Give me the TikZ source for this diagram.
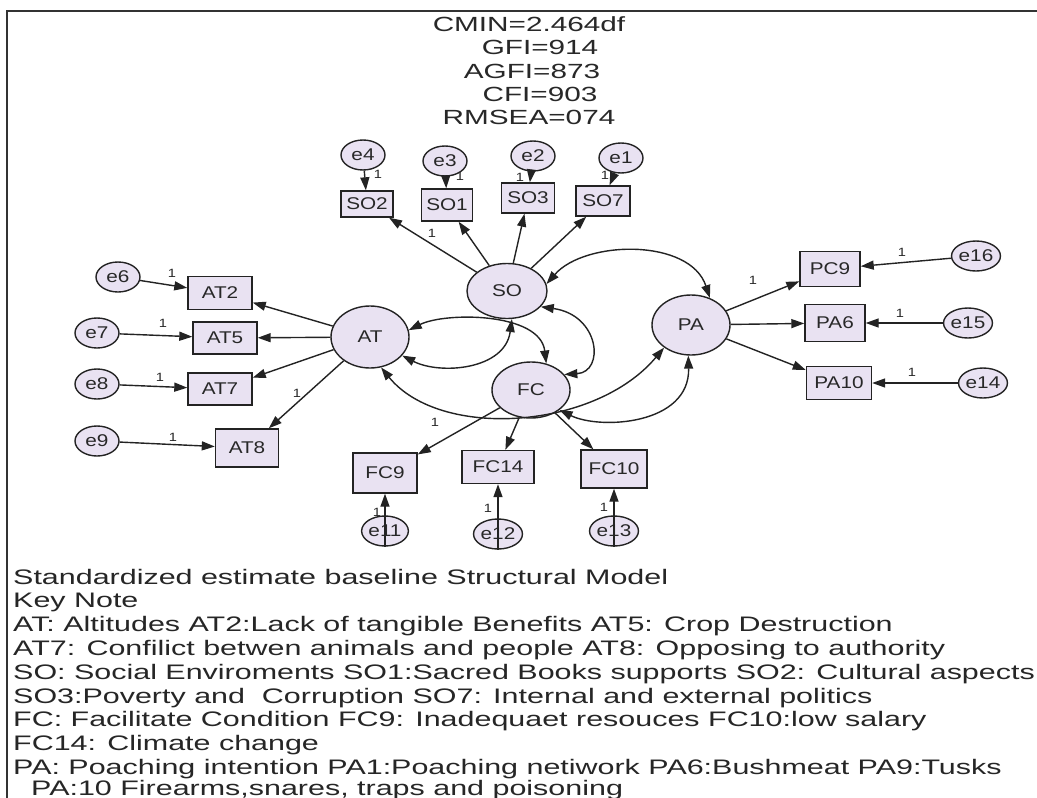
\documentclass[tikz,border=0pt]{standalone}
\usepackage{fontspec}
\setmainfont{Liberation Sans}
\newfontfamily\wideface[FakeStretch=1.45]{Liberation Sans}
\newfontfamily\labelface[FakeStretch=1.22]{Liberation Sans}
\usetikzlibrary{arrows.meta,shapes.geometric}
\definecolor{lav}{RGB}{233,226,242}
\definecolor{ink}{RGB}{35,35,35}
\definecolor{txt}{RGB}{40,40,40}

\begin{document}
\begin{tikzpicture}[x=1pt,y=-1pt,
  latent/.style={ellipse, draw=ink, fill=lav, line width=1.4pt, inner sep=0pt,
    font=\labelface\fontsize{17pt}{17pt}\selectfont, text=txt},
  obs/.style={rectangle, draw=ink, fill=lav, line width=1.4pt, inner sep=0pt,
    font=\labelface\fontsize{17pt}{17pt}\selectfont, text=txt},
  err/.style={ellipse, draw=ink, fill=lav, line width=1.4pt, inner sep=0pt,
    minimum width=44pt, minimum height=30pt,
    font=\labelface\fontsize{17pt}{17pt}\selectfont, text=txt},
  path/.style={draw=ink, line width=1.4pt, -{Triangle[length=13pt,width=9pt]}},
  cov/.style={draw=ink, line width=1.4pt,
    {Triangle[length=13pt,width=9pt]}-{Triangle[length=13pt,width=9pt]}},
  one/.style={font=\labelface\fontsize{12pt}{12pt}\selectfont, text=txt, inner sep=0pt},
  stat/.style={font=\wideface\fontsize{20.5pt}{20.5pt}\selectfont, text=txt, inner sep=0pt, anchor=base},
  legend/.style={font=\wideface\fontsize{21pt}{21pt}\selectfont, text=black!85, inner sep=0pt, anchor=base west}
]
\useasboundingbox (0,0) rectangle (1037,798);
\fill[white] (0,0) rectangle (1037,798);

% frame lines along the top and left edges
\draw[line width=2pt, black!80] (1037,10.5) -- (7,10.5) -- (7,798);

% fit indices
\node[stat] (s1) at (529,31.5) {CMIN=2.464df};
\node[stat] (s2) at (540,54.8) {GFI=914};
\node[stat] (s3) at (532,78.1) {AGFI=873};
\node[stat] (s4) at (540,101.4) {CFI=903};
\node[stat] (s5) at (529,124.7) {RMSEA=074};

% latent variables
\node[latent, minimum width=80pt, minimum height=55pt] (SO) at (507,291) {SO};
\node[latent, minimum width=78pt, minimum height=62pt] (AT) at (370,337) {AT};
\node[latent, minimum width=78pt, minimum height=56pt] (FC) at (531,390) {FC};
\node[latent, minimum width=78pt, minimum height=60pt] (PA) at (691,325) {PA};

% observed indicators
\node[obs, minimum width=52pt, minimum height=26pt] (SO2) at (367,204) {SO2};
\node[obs, minimum width=51pt, minimum height=32pt] (SO1) at (447,205) {SO1};
\node[obs, minimum width=53pt, minimum height=30pt] (SO3) at (528,198) {SO3};
\node[obs, minimum width=54pt, minimum height=30pt] (SO7) at (603,201) {SO7};

\node[obs, minimum width=64pt, minimum height=33pt] (AT2) at (220,293) {AT2};
\node[obs, minimum width=64pt, minimum height=32pt] (AT5) at (225,338) {AT5};
\node[obs, minimum width=64pt, minimum height=32pt] (AT7) at (220,389) {AT7};
\node[obs, minimum width=63pt, minimum height=38pt] (AT8) at (247,448) {AT8};

\node[obs, minimum width=64pt, minimum height=40pt] (FC9) at (385,473) {FC9};
\node[obs, minimum width=72pt, minimum height=33pt] (FC14) at (498,467) {FC14};
\node[obs, minimum width=66pt, minimum height=38pt] (FC10) at (614,469) {FC10};

\node[obs, minimum width=60pt, minimum height=35pt] (PC9) at (830,269) {PC9};
\node[obs, minimum width=60pt, minimum height=37pt] (PA6) at (835,323) {PA6};
\node[obs, minimum width=65pt, minimum height=33pt] (PA10) at (839,383) {PA10};

% error terms
\node[err] (e4) at (363,155) {e4};
\node[err] (e3) at (445,161) {e3};
\node[err] (e2) at (533,156) {e2};
\node[err] (e1) at (621,158) {e1};
\node[err] (e6) at (118,277) {e6};
\node[err] (e7) at (97,333) {e7};
\node[err] (e8) at (97,384) {e8};
\node[err] (e9) at (97,441) {e9};
\node[err] (e11) at (385,531) {e11};
\node[err] (e12) at (498,534) {e12};
\node[err] (e13) at (614,531) {e13};
\node[err] (e16) at (976,256) {e16};
\node[err] (e15) at (968,323) {e15};
\node[err] (e14) at (983,383) {e14};

% loadings
\draw[path] (SO) -- (SO2);
\draw[path] (SO) -- (SO1);
\draw[path] (SO) -- (SO3);
\draw[path] (SO) -- (SO7);
\draw[path] (AT) -- (AT2);
\draw[path] (AT) -- (AT5);
\draw[path] (AT) -- (AT7);
\draw[path] (AT) -- (AT8);
\draw[path] (FC) -- (FC9);
\draw[path] (FC) -- (FC14);
\draw[path] (FC) -- (FC10);
\draw[path] (PA) -- (PC9);
\draw[path] (PA) -- (PA6);
\draw[path] (PA) -- (PA10);

% error paths
\draw[path] (e4) -- (SO2);
\draw[path] (e3) -- (SO1);
\draw[path] (e2) -- (SO3);
\draw[path] (e1) -- (SO7);
\draw[path] (e6) -- (AT2);
\draw[path] (e7) -- (AT5);
\draw[path] (e8) -- (AT7);
\draw[path] (e9) -- (AT8);
\draw[path] (e11.south) -- (FC9.south);
\draw[path] (e12.south) -- (FC14.south);
\draw[path] (e13.south) -- (FC10.south);
\draw[path] (e16) -- (PC9);
\draw[path] (e15) -- (PA6);
\draw[path] (e14) -- (PA10);

% covariances between the latent variables
\draw[cov] (SO.10) .. controls (585,240) and (690,238) .. (PA.55);
\draw[cov] (AT.10) .. controls (445,312) and (540,312) .. (FC.60);
\draw[cov] (AT.-30) .. controls (440,375) and (505,370) .. (SO.-80);
\draw[cov] (SO.-25) .. controls (600,315) and (605,372) .. (FC.25);
\draw[cov] (AT.-70) .. controls (440,440) and (595,430) .. (PA.220);
\draw[cov] (FC.-35) .. controls (600,430) and (690,425) .. (PA.-95);

% fixed loadings
\node[one] (o1) at (432,233) {1};
\node[one] (o2) at (378,174) {1};
\node[one] (o3) at (460,176) {1};
\node[one] (o4) at (520,177) {1};
\node[one] (o5) at (605,175) {1};
\node[one] (o6) at (297,393) {1};
\node[one] (o7) at (172,273) {1};
\node[one] (o8) at (163,323) {1};
\node[one] (o9) at (160,377) {1};
\node[one] (o10) at (173,437) {1};
\node[one] (o11) at (435,422) {1};
\node[one] (o12) at (377,512) {1};
\node[one] (o13) at (488,508) {1};
\node[one] (o14) at (604,507) {1};
\node[one] (o15) at (753,280) {1};
\node[one] (o16) at (902,252) {1};
\node[one] (o17) at (900,313) {1};
\node[one] (o18) at (912,372) {1};

% key
\node[legend] (k1) at (13,584) {Standardized estimate baseline Structural Model};
\node[legend] (k2) at (13,607.8) {Key Note};
\node[legend] (k3) at (13,631.6) {AT: Altitudes AT2:Lack of tangible Benefits AT5: Crop Destruction};
\node[legend] (k4) at (13,655.4) {AT7: Confilict betwen animals and people AT8: Opposing to authority};
\node[legend] (k5) at (13,679.2) {SO: Social Enviroments SO1:Sacred Books supports SO2: Cultural aspects};
\node[legend] (k6) at (13,703) {SO3:Poverty and\ \ Corruption SO7: Internal and external politics};
\node[legend] (k7) at (13,726.8) {FC: Facilitate Condition FC9: Inadequaet resouces FC10:low salary};
\node[legend] (k8) at (13,750.6) {FC14: Climate change};
\node[legend] (k9) at (13,774.4) {PA: Poaching intention PA1:Poaching netiwork PA6:Bushmeat PA9:Tusks};
\node[legend] (k10) at (31,795) {PA:10 Firearms,snares, traps and poisoning};
\end{tikzpicture}
\end{document}
